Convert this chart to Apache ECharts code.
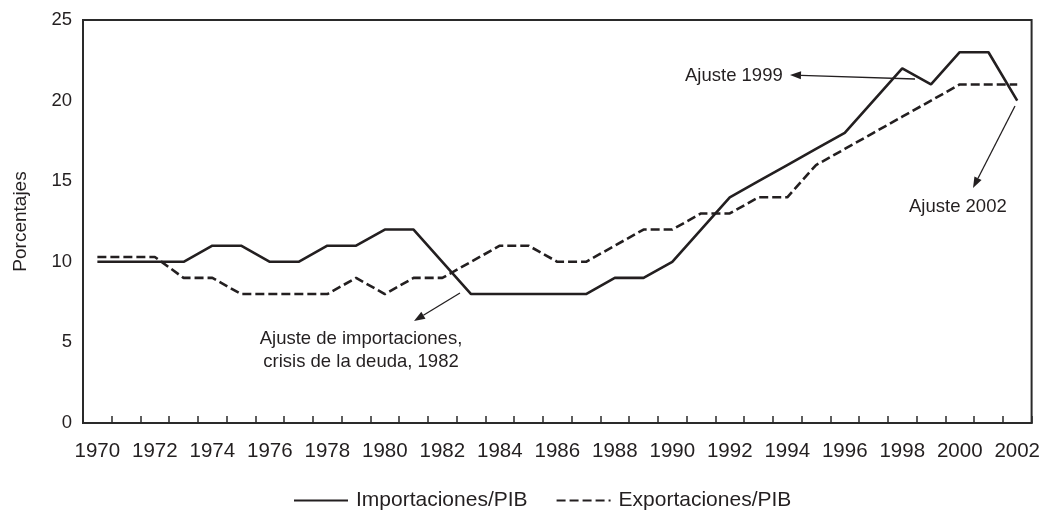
<!DOCTYPE html>
<html>
<head>
<meta charset="utf-8">
<script src="https://cdn.jsdelivr.net/npm/echarts@6/dist/echarts.min.js"></script>
<style>
  html, body { margin: 0; padding: 0; background: #fff; }
  #chart { width: 1043px; height: 510px; }
</style>
</head>
<body>
<div id="chart"></div>
<script>
// years on the category axis
var years = [];
for (var y = 1970; y <= 2002; y++) years.push(String(y));

// Importaciones/PIB (%)
var importaciones = [10, 10, 10, 10, 11, 11, 10, 10, 11, 11, 12, 12, 10, 8, 8, 8, 8, 8, 9, 9,
  10, 12, 14, 15, 16, 17, 18, 20, 22, 21, 23, 23, 20];
// Exportaciones/PIB (%)
var exportaciones = [10.3, 10.3, 10.3, 9, 9, 8, 8, 8, 8, 9, 8, 9, 9, 10, 11, 11, 10, 10, 11, 12,
  12, 13, 13, 14, 14, 16, 17, 18, 19, 20, 21, 21, 21];

var yTicks = [0, 5, 10, 15, 20, 25];

var ink = '#231f20';
var font = 'Liberation Sans, Arial, sans-serif';

function arrow(x1, y1, x2, y2) {
  // line from (x1,y1) with a filled head at (x2,y2)
  var ang = Math.atan2(y2 - y1, x2 - x1);
  var len = 11, half = 4;
  var bx = x2 - len * Math.cos(ang), by = y2 - len * Math.sin(ang);
  var px = -Math.sin(ang) * half, py = Math.cos(ang) * half;
  return [
    { type: 'line', shape: { x1: x1, y1: y1, x2: bx, y2: by }, style: { stroke: ink, lineWidth: 1.3 } },
    { type: 'polygon', shape: { points: [[x2, y2], [bx + px, by + py], [bx - px, by - py]] }, style: { fill: ink } }
  ];
}

function label(x, y, text, align) {
  return {
    type: 'text', x: x, y: y,
    style: { text: text, fill: ink, font: '18.5px ' + font, align: align || 'left', verticalAlign: 'middle', lineHeight: 23 }
  };
}

var chart = echarts.init(document.getElementById('chart'));
chart.setOption({
  backgroundColor: '#fff',
  animation: false,
  grid: {
    left: 83, right: 10, top: 20, bottom: 87,
    show: true, borderColor: '#2a2a2a', borderWidth: 2, backgroundColor: 'transparent'
  },
  legend: {
    left: 293, top: 490,
    padding: 0,
    itemWidth: 54, itemHeight: 14, itemGap: 28,
    itemStyle: { opacity: 0 },
    textStyle: { color: ink, fontSize: 21, fontFamily: font, padding: [0, 0, 0, 3] },
    data: ['Importaciones/PIB', 'Exportaciones/PIB']
  },
  xAxis: {
    type: 'category',
    data: years,
    boundaryGap: true,
    axisLine: { show: true, lineStyle: { color: '#2a2a2a', width: 2 } },
    axisTick: { show: true, inside: true, length: 7, interval: 0, lineStyle: { color: '#2a2a2a', width: 1.5 } },
    axisLabel: { interval: 1, color: ink, fontSize: 20.5, fontFamily: font, margin: 18 },
    splitLine: { show: false }
  },
  yAxis: {
    type: 'value',
    min: yTicks[0], max: yTicks[yTicks.length - 1], interval: 5,
    name: 'Porcentajes',
    nameLocation: 'middle',
    nameGap: 53,
    nameTextStyle: { color: ink, fontSize: 19, fontFamily: font },
    axisLine: { show: false },
    axisTick: { show: false },
    axisLabel: { color: ink, fontSize: 18.5, fontFamily: font, margin: 11 },
    splitLine: { show: false }
  },
  series: [
    {
      name: 'Importaciones/PIB',
      type: 'line',
      data: importaciones,
      symbol: 'none',
      itemStyle: { color: ink },
      lineStyle: { color: ink, width: 2.6, type: 'solid' }
    },
    {
      name: 'Exportaciones/PIB',
      type: 'line',
      data: exportaciones,
      symbol: 'none',
      itemStyle: { color: ink },
      lineStyle: { color: ink, width: 2.6, type: [9, 4] }
    }
  ],
  graphic: [].concat(
    arrow(915, 79, 790, 75),
    arrow(1015, 106, 973, 188),
    arrow(460, 293, 414, 321),
    [
      label(685, 76, 'Ajuste 1999'),
      label(909, 207, 'Ajuste 2002'),
      label(361, 350, 'Ajuste de importaciones,\ncrisis de la deuda, 1982', 'center')
    ]
  )
});
</script>
</body>
</html>
